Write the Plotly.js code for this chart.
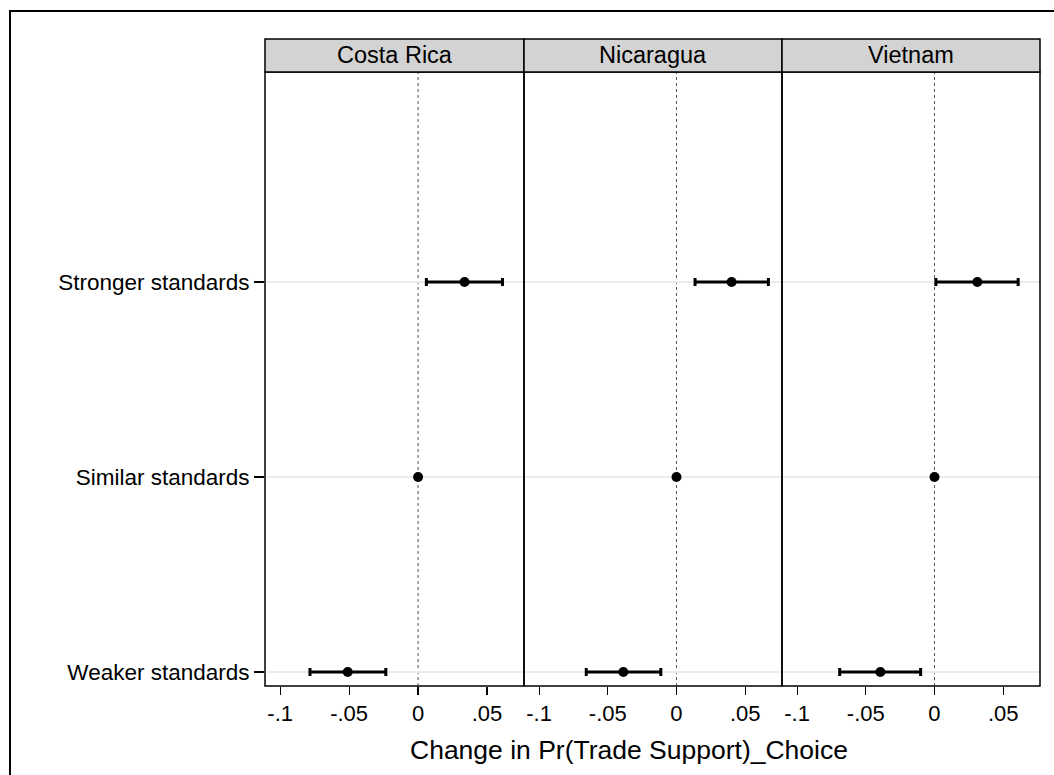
<!DOCTYPE html>
<html>
<head>
<meta charset="utf-8">
<script src="https://cdn.plot.ly/plotly-3.0.1.min.js"></script>
<style>html,body{margin:0;padding:0;background:#fff;}#chart{width:1054px;height:775px;}</style>
</head>
<body>
<div id="chart"></div>
<script>
// ---- data ----
var categories = ['Stronger standards', 'Similar standards', 'Weaker standards'];
var panels = ['Costa Rica', 'Nicaragua', 'Vietnam'];

var costaRicaEst = [0.0337, 0, -0.0510];
var costaRicaLo  = [0.0060, 0, -0.0784];
var costaRicaHi  = [0.0612, 0, -0.0234];

var nicaraguaEst = [0.0401, 0, -0.0387];
var nicaraguaLo  = [0.0135, 0, -0.0657];
var nicaraguaHi  = [0.0669, 0, -0.0114];

var vietnamEst = [0.0312, 0, -0.0394];
var vietnamLo  = [0.0010, 0, -0.0690];
var vietnamHi  = [0.0609, 0, -0.0101];

var xTickVals = [-0.1, -0.05, 0, 0.05];
var xTickText = ['-.1', '-.05', '0', '.05'];
var xTitle = 'Change in Pr(Trade Support)_Choice';

// ---- layout helpers ----
var W = 1054, H = 775;
var FONT = 'Liberation Sans, Arial, Helvetica, sans-serif';
function px(x) { return x / W; }
function py(y) { return 1 - y / H; }

var panelEdges = [265, 524, 782, 1040];
var plotTop = 72, plotBottom = 686, headTop = 39;

var series = [
  [costaRicaEst, costaRicaLo, costaRicaHi],
  [nicaraguaEst, nicaraguaLo, nicaraguaHi],
  [vietnamEst, vietnamLo, vietnamHi]
];

var traces = [];
series.forEach(function (s, i) {
  var est = s[0], lo = s[1], hi = s[2];
  traces.push({
    type: 'scatter', mode: 'markers',
    x: est, y: categories,
    xaxis: i === 0 ? 'x' : 'x' + (i + 1),
    yaxis: 'y',
    marker: {color: '#000', size: 10},
    error_x: {
      type: 'data', symmetric: false,
      array: hi.map(function (h, k) { return h - est[k]; }),
      arrayminus: lo.map(function (l, k) { return est[k] - l; }),
      color: '#000', thickness: 3, width: 4
    },
    hoverinfo: 'skip', showlegend: false, cliponaxis: false
  });
});

var layout = {
  width: W, height: H,
  margin: {l: 0, r: 0, t: 0, b: 0},
  paper_bgcolor: '#fff', plot_bgcolor: '#fff',
  font: {family: FONT, color: '#000'},
  showlegend: false,
  yaxis: {
    type: 'category',
    categoryorder: 'array',
    categoryarray: categories.slice().reverse(),
    range: [-0.0718, 3.0769],
    domain: [py(plotBottom), py(plotTop)],
    anchor: 'x',
    showgrid: true, gridcolor: '#e6eeee', gridwidth: 1.5,
    zeroline: false, showline: false,
    ticks: 'outside', ticklen: 10, tickwidth: 1.2, tickcolor: '#000',
    tickfont: {size: 22.5, family: FONT, color: '#000'},
    ticklabelstandoff: 0,
    fixedrange: true
  },
  shapes: [],
  annotations: []
};

for (var i = 0; i < 3; i++) {
  var key = i === 0 ? 'xaxis' : 'xaxis' + (i + 1);
  var ref = i === 0 ? 'x' : 'x' + (i + 1);
  layout[key] = {
    domain: [px(panelEdges[i]), px(panelEdges[i + 1])],
    range: [-0.111, 0.0768],
    anchor: 'y',
    tickvals: xTickVals, ticktext: xTickText,
    ticks: 'outside', ticklen: 8, tickwidth: 1.2, tickcolor: '#000',
    tickfont: {size: 22, family: FONT, color: '#000'},
    showgrid: false, zeroline: false, showline: false,
    fixedrange: true
  };
  // dotted reference line at zero
  layout.shapes.push({
    type: 'line', xref: ref, yref: 'paper',
    x0: 0, x1: 0, y0: py(plotBottom), y1: py(plotTop),
    line: {color: '#555', width: 1, dash: 'dot'}, layer: 'below'
  });
  // panel border
  layout.shapes.push({
    type: 'rect', xref: 'paper', yref: 'paper',
    x0: px(panelEdges[i]), x1: px(panelEdges[i + 1]),
    y0: py(plotBottom), y1: py(plotTop),
    line: {color: '#000', width: 1.5}, fillcolor: 'rgba(0,0,0,0)', layer: 'above'
  });
  // header strip
  layout.shapes.push({
    type: 'rect', xref: 'paper', yref: 'paper',
    x0: px(panelEdges[i]), x1: px(panelEdges[i + 1]),
    y0: py(plotTop), y1: py(headTop),
    line: {color: '#000', width: 1.5}, fillcolor: '#d3d3d3', layer: 'above'
  });
  layout.annotations.push({
    xref: 'paper', yref: 'paper',
    x: (px(panelEdges[i]) + px(panelEdges[i + 1])) / 2,
    y: (py(plotTop) + py(headTop)) / 2,
    text: panels[i], showarrow: false,
    xanchor: 'center', yanchor: 'middle',
    font: {size: 23.5, family: FONT, color: '#000'}
  });
}

// axis title
layout.annotations.push({
  xref: 'paper', yref: 'paper',
  x: px(629), y: py(750),
  text: xTitle, showarrow: false, xanchor: 'center', yanchor: 'middle',
  font: {size: 26.5, family: FONT, color: '#000'}
});

// outer frame (right and bottom edges fall outside the picture)
layout.shapes.push({
  type: 'rect', xref: 'paper', yref: 'paper',
  x0: px(10), x1: 1.05, y0: -0.05, y1: py(11),
  line: {color: '#000', width: 2}, fillcolor: 'rgba(0,0,0,0)', layer: 'above'
});

Plotly.newPlot('chart', traces, layout, {displayModeBar: false, staticPlot: true});
</script>
</body>
</html>
